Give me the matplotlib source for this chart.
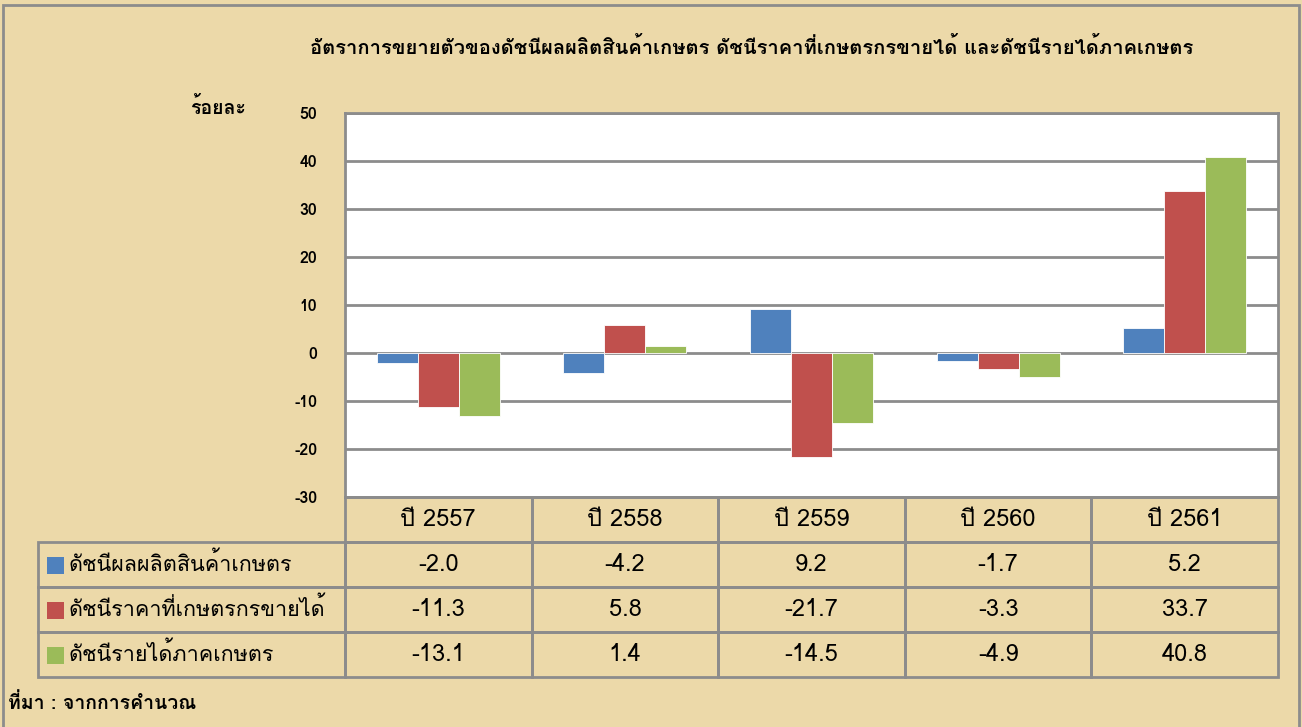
import matplotlib
matplotlib.use("Agg")
import matplotlib.pyplot as plt
import numpy as np
from matplotlib.patches import Rectangle

plt.rcParams["font.family"] = ["Loma", "Noto Sans Thai Looped", "DejaVu Sans"]
plt.rcParams["axes.unicode_minus"] = False

years = ["ปี 2557", "ปี 2558", "ปี 2559", "ปี 2560", "ปี 2561"]
series_names = [
    "ดัชนีผลผลิตสินค้าเกษตร",
    "ดัชนีราคาที่เกษตรกรขายได้",
    "ดัชนีรายได้ภาคเกษตร",
]
production = [-2.0, -4.2, 9.2, -1.7, 5.2]
price = [-11.3, 5.8, -21.7, -3.3, 33.7]
income = [-13.1, 1.4, -14.5, -4.9, 40.8]
yticks = [-30, -20, -10, 0, 10, 20, 30, 40, 50]
colors = ["#4F81BD", "#C0504D", "#9BBB59"]

title = "อัตราการขยายตัวของดัชนีผลผลิตสินค้าเกษตร ดัชนีราคาที่เกษตรกรขายได้ และดัชนีรายได้ภาคเกษตร"
ylabel = "ร้อยละ"
source = "ที่มา : จากการคำนวณ"

bg = "#ECD9A9"
line_col = "#8C8C8C"

W, H = 1302, 727
fig = plt.figure(figsize=(W / 100, H / 100), dpi=100, facecolor=bg)

# outer border of the chart area
fig.add_artist(Rectangle((3 / W, -0.01), (1299 - 3) / W, 1 - 5 / H + 0.01,
                         transform=fig.transFigure, fill=False,
                         edgecolor=line_col, lw=2))

left, right, top, bottom = 345, 1278, 113, 497
ax = fig.add_axes([left / W, 1 - bottom / H, (right - left) / W, (bottom - top) / H])
ax.set_facecolor("white")

x = np.arange(len(years))
w = 0.22
data = [production, price, income]
for i, vals in enumerate(data):
    ax.bar(x + (i - 1) * w, vals, width=w, color=colors[i],
           edgecolor="white", linewidth=0.6, zorder=3)

ax.set_xlim(-0.5, len(years) - 0.5)
ax.set_ylim(-30, 50)
ax.set_yticks(yticks, labels=[str(t) for t in yticks], fontweight="bold", fontsize=11.5)
ax.set_xticks([])
ax.grid(axis="y", color=line_col, lw=2, zorder=0)
ax.tick_params(axis="y", length=0, pad=20)
for s in ax.spines.values():
    s.set_color(line_col)
    s.set_linewidth(2)

# data table under the plot
axw = right - left
axh = bottom - top
col_w = 1 / len(years)
row_h = 45 / axh
lab_left = (38 - left) / axw

# header row with year labels
for j, yr in enumerate(years):
    ax.add_patch(Rectangle((j * col_w, -row_h), col_w, row_h, transform=ax.transAxes,
                           fill=False, edgecolor=line_col, lw=2, clip_on=False))
    ax.text((j + 0.5) * col_w, -row_h / 2, yr, transform=ax.transAxes,
            ha="center", va="center", fontsize=17)

# data rows
for r, (name, vals) in enumerate(zip(series_names, data)):
    y0 = -row_h * (r + 2)
    ax.add_patch(Rectangle((lab_left, y0), -lab_left, row_h, transform=ax.transAxes,
                           fill=False, edgecolor=line_col, lw=2, clip_on=False))
    ax.add_patch(Rectangle((lab_left + 9 / axw, y0 + row_h / 2 - 9 / axh), 17 / axw, 17 / axh,
                           transform=ax.transAxes, facecolor=colors[r],
                           edgecolor="none", clip_on=False))
    ax.text(lab_left + 30 / axw, y0 + row_h / 2, name, transform=ax.transAxes,
            ha="left", va="center", fontsize=15.5)
    for j, v in enumerate(vals):
        ax.add_patch(Rectangle((j * col_w, y0), col_w, row_h, transform=ax.transAxes,
                               fill=False, edgecolor=line_col, lw=2, clip_on=False))
        ax.text((j + 0.5) * col_w, y0 + row_h / 2, f"{v:.1f}", transform=ax.transAxes,
                ha="center", va="center", fontsize=17)

fig.text(752 / W, 1 - 47 / H, title, ha="center", va="center",
         fontsize=14.5, fontweight="bold")
fig.text(190 / W, 1 - 108 / H, ylabel, ha="left", va="center",
         fontsize=14, fontweight="bold")
fig.text(8 / W, 1 - 703 / H, source, ha="left", va="center",
         fontsize=14, fontweight="bold")

fig.savefig("out.png", dpi=100, facecolor=bg)
